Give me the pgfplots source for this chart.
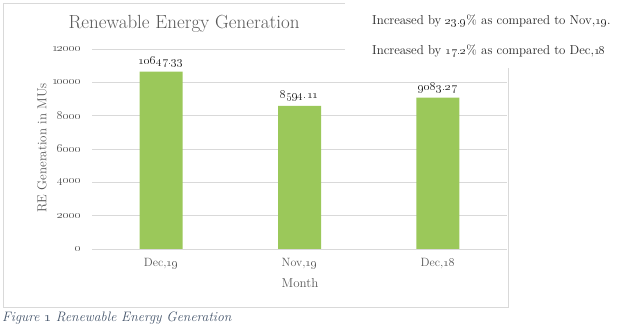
\documentclass[border=0pt]{standalone}
\usepackage{pgfplots}
\pgfplotsset{compat=1.18}
\definecolor{bargreen}{RGB}{155,200,90}
\definecolor{gridgray}{RGB}{217,217,217}
\definecolor{txtgray}{RGB}{89,89,89}
\definecolor{capblue}{RGB}{68,84,106}
\pgfplotstableread{
x y lab
0 10647.33 10647.33
1 8594.11 8594.11
2 9083.27 9083.27
}\redata
\begin{document}
\begin{tikzpicture}[x=1pt,y=1pt]
\useasboundingbox (0,0) rectangle (620,326);
\draw[gridgray, line width=0.8pt] (3,323) rectangle (508,19);
\begin{axis}[at={(92pt,77pt)}, anchor=south west, scale only axis,
  width=415pt, height=200pt,
  xmin=-0.5, xmax=2.5, ymin=0, ymax=12000,
  scaled y ticks=false,
  axis line style={draw=none}, major tick length=0pt,
  ymajorgrids, grid style={gridgray, line width=0.8pt},
  ytick={0,2000,4000,6000,8000,10000,12000},
  yticklabels={\oldstylenums{0},\oldstylenums{2000},\oldstylenums{4000},\oldstylenums{6000},\oldstylenums{8000},\oldstylenums{10000},\oldstylenums{12000}},
  xtick={0,1,2},
  xticklabels={{Dec,\oldstylenums{19}}, {Nov,\oldstylenums{19}}, {Dec,\oldstylenums{18}}},
  yticklabel style={font=\fontsize{13}{15}\selectfont, text=txtgray, anchor=east, xshift=-7pt},
  xticklabel style={font=\fontsize{12}{14}\selectfont, text=txtgray, anchor=north, yshift=-6pt},
  clip=false]
\addplot[ybar, bar width=43pt, fill=bargreen, draw=none,
  point meta=explicit symbolic,
  nodes near coords={\oldstylenums{\pgfplotspointmeta}},
  nodes near coords style={font=\fontsize{11.5}{13}\selectfont, text=black!85, anchor=south, yshift=1pt}]
  table[x=x, y=y, meta=lab] {\redata};
\end{axis}
\node[font=\fontsize{13}{15}\selectfont, text=txtgray] at (300,43) {Month};
\node[font=\fontsize{13}{15}\selectfont, text=txtgray, rotate=90] at (42,178) {RE Generation in MUs};
\node[font=\fontsize{19}{22}\selectfont, text=txtgray] at (184,302) {Renewable Energy Generation};
\fill[white] (345,258) rectangle (620,326);
\node[anchor=base west, font=\fontsize{12.9}{16}\selectfont, text=black!85, inner sep=0pt] at (372,301) {Increased by \oldstylenums{23.9}\% as compared to Nov,\oldstylenums{19}.};
\node[anchor=base west, font=\fontsize{12.9}{16}\selectfont, text=black!85, inner sep=0pt] at (372,271) {Increased by \oldstylenums{17.2}\% as compared to Dec,\oldstylenums{18}};
\node[anchor=base west, font=\itshape\fontsize{13.7}{16}\selectfont, text=capblue, inner sep=0pt] at (2,4) {Figure \oldstylenums{1} Renewable Energy Generation};
\end{tikzpicture}
\end{document}
